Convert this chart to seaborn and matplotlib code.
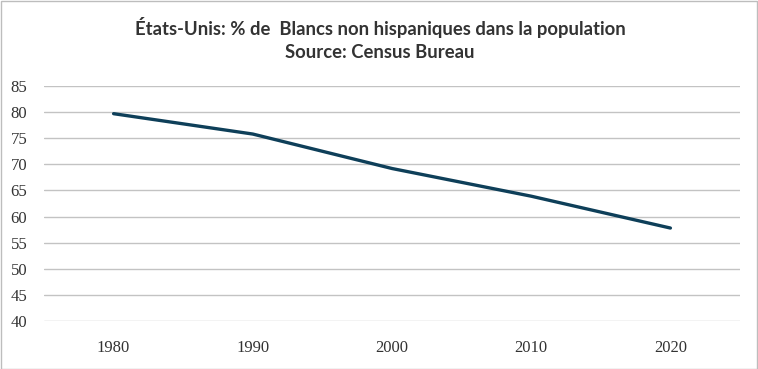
import matplotlib
matplotlib.use("Agg")
import matplotlib.pyplot as plt
import seaborn as sns
import pandas as pd
from matplotlib.patches import Rectangle

years = ["1980", "1990", "2000", "2010", "2020"]
pct_white = [79.7, 75.8, 69.2, 63.9, 57.8]
y_ticks = [40, 45, 50, 55, 60, 65, 70, 75, 80, 85]
title = "États-Unis: % de  Blancs non hispaniques dans la population\nSource: Census Bureau"

df = pd.DataFrame({"year": years, "pct": pct_white})

sns.set_style("white")
plt.rcParams["font.family"] = ["Lato", "DejaVu Sans"]

fig = plt.figure(figsize=(7.58, 3.69), dpi=100)
ax = fig.add_axes([44 / 758, 1 - 321 / 369, 696 / 758, 235 / 369])

sns.lineplot(data=df, x="year", y="pct", ax=ax, color="#0e3f59", linewidth=2.4,
             sort=False, legend=False)

ax.set_xlim(-0.5, len(years) - 0.5)
ax.set_ylim(40, 85)
ax.set_yticks(y_ticks)
ax.set_yticklabels([str(t) for t in y_ticks], fontfamily="Liberation Serif",
                   fontsize=12, color="#333333")
ax.set_xticks(range(len(years)))
ax.set_xticklabels(years, fontfamily="Liberation Serif", fontsize=12, color="#333333")
ax.tick_params(axis="both", length=0)
ax.tick_params(axis="y", pad=12)
ax.tick_params(axis="x", pad=14)
ax.yaxis.grid(True, color="#c3c3c3", linewidth=1)
ax.xaxis.grid(False)
ax.set_axisbelow(True)
for s in ax.spines.values():
    s.set_visible(False)
ax.set_xlabel("")
ax.set_ylabel("")

fig.text(380 / 758, 1 - 39 / 369, title, ha="center", va="center", fontsize=13.3,
         fontweight="bold", color="#333333", linespacing=1.5)

fig.patches.append(Rectangle((0.5 / 758, 0.5 / 369), 756.5 / 758, 367.5 / 369,
                             transform=fig.transFigure, fill=False,
                             edgecolor="#bdbdbd", linewidth=1))

fig.savefig("out.png", dpi=100)
